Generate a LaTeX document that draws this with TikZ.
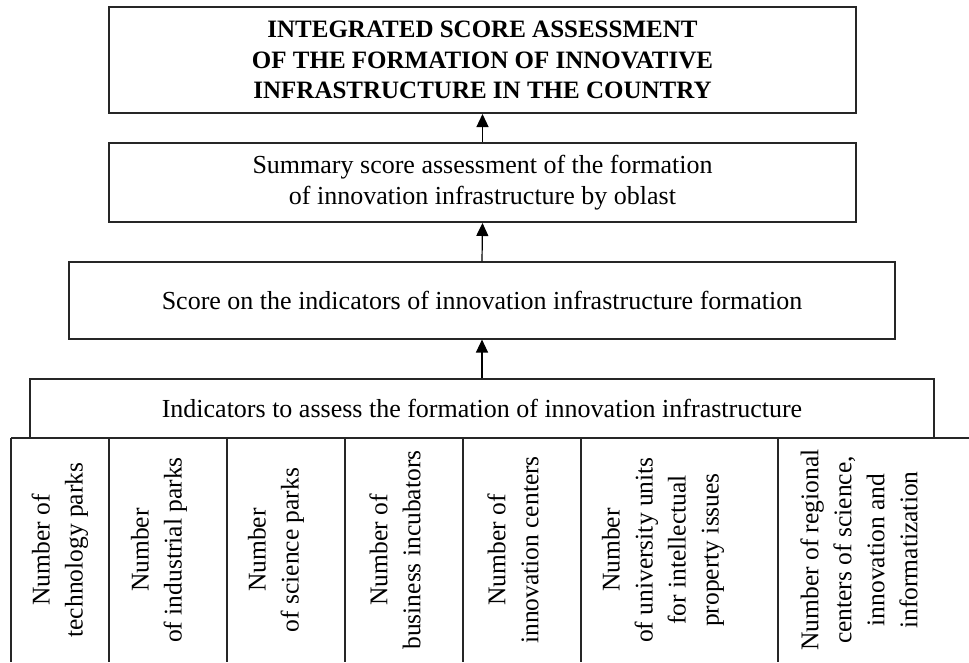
\documentclass[tikz,border=0pt]{standalone}
\usepackage{fontspec}
\setmainfont{Liberation Serif}
\usetikzlibrary{arrows.meta}
\begin{document}
\begin{tikzpicture}[x=1pt,y=1pt,
  thickbox/.style={draw=black!85, line width=2pt, align=center, inner sep=0pt,
    font=\fontsize{26}{31}\selectfont},
  thinbox/.style={draw=black!85, line width=1.1pt, align=center, inner sep=0pt,
    font=\fontsize{26}{31}\selectfont},
  coltext/.style={rotate=90, align=center, inner sep=0pt,
    font=\fontsize{25.5}{33}\selectfont},
  grid/.style={draw=black!85, line width=1.1pt},
  arr/.style={draw=black, line width=1.2pt, -{Triangle[width=12pt,length=13pt]}}]
\useasboundingbox (0,0) rectangle (969,-662);
\fill[white] (0,0) rectangle (969,-662);

\node[thickbox, minimum width=747, minimum height=106, font=\fontsize{25}{30.5}\selectfont] (top) at (482.5,-60)
  {\textbf{INTEGRATED SCORE ASSESSMENT}\\\textbf{OF THE FORMATION OF INNOVATIVE}\\\textbf{INFRASTRUCTURE IN THE COUNTRY}};
\node[thickbox, minimum width=747, minimum height=79] (summary) at (482.5,-182.5)
  {Summary score assessment of the formation\\of innovation infrastructure by oblast};
\node[thinbox, minimum width=826, minimum height=77] (score) at (482,-300.5)
  {Score on the indicators of innovation infrastructure formation};
\node[thinbox, minimum width=904, minimum height=59] (ind) at (482,-408.5)
  {Indicators to assess the formation of innovation infrastructure};

\draw[arr] (summary.north) -- (top.south);
\draw[arr] (score.north) -- (summary.south);
\draw[arr] (ind.north) -- (score.south);

% columns grid
\coordinate (gl) at (11,-438);
\coordinate (gr) at (969,-438);
\draw[grid] (gl) -- (gr);
\foreach \xx in {11,109,227,345,463,581,778}
  \draw[grid] (\xx,-438) -- (\xx,-662);

\node[coltext] (c1) at (60,-550) {Number of\\technology parks};
\node[coltext] (c2) at (159,-550) {Number\\of industrial parks};
\node[coltext] (c3) at (276,-550) {Number\\of science parks};
\node[coltext] (c4) at (395,-550) {Number of\\business incubators};
\node[coltext] (c5) at (513,-550) {Number of\\innovation centers};
\node[coltext] (c6) at (663,-550) {Number\\of university units\\for intellectual\\property issues};
\node[coltext] (c7) at (859,-550) {Number of regional\\centers of science,\\innovation and\\informatization};
\end{tikzpicture}
\end{document}
